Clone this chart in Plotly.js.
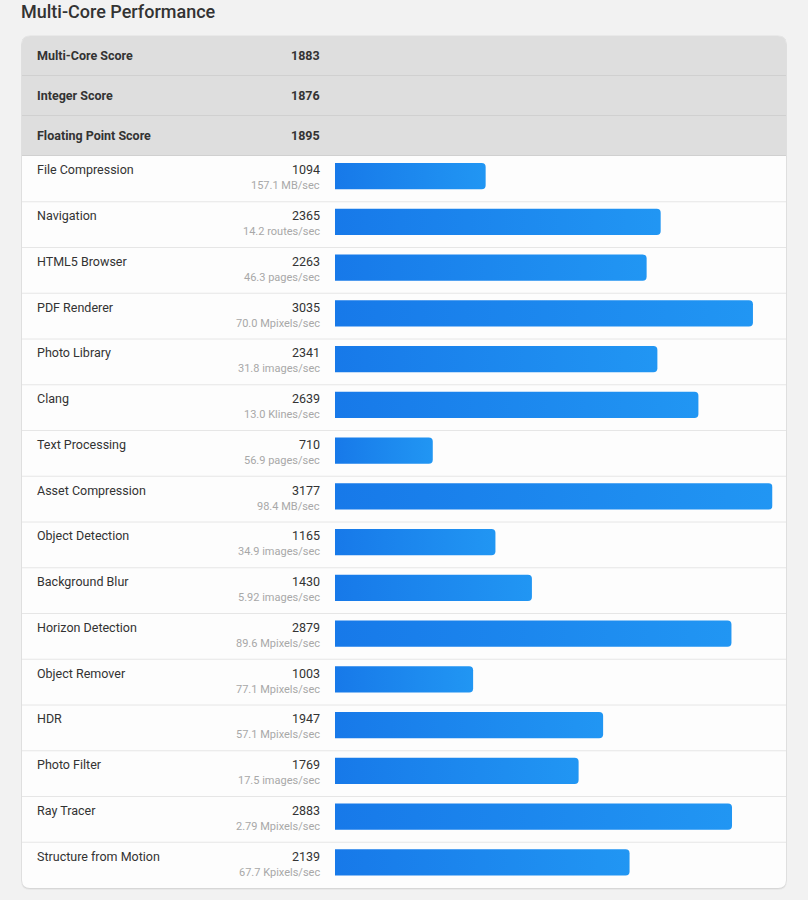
<!DOCTYPE html>
<html>
<head>
<meta charset="utf-8">
<script src="https://cdn.plot.ly/plotly-3.0.1.min.js"></script>
<style>
  html, body { margin: 0; padding: 0; background: #f2f2f2; }
  #chart { width: 808px; height: 900px; }
</style>
</head>
<body>
<div id="chart"></div>
<script>
// ---------- data ----------
const chartTitle = "Multi-Core Performance";
const summaryLabels = ["Multi-Core Score", "Integer Score", "Floating Point Score"];
const summaryScores = [1883, 1876, 1895];
const workloads = ["File Compression", "Navigation", "HTML5 Browser", "PDF Renderer", "Photo Library",
  "Clang", "Text Processing", "Asset Compression", "Object Detection", "Background Blur",
  "Horizon Detection", "Object Remover", "HDR", "Photo Filter", "Ray Tracer", "Structure from Motion"];
const scores = [1094, 2365, 2263, 3035, 2341, 2639, 710, 3177, 1165, 1430, 2879, 1003, 1947, 1769, 2883, 2139];
const rates = ["157.1 MB/sec", "14.2 routes/sec", "46.3 pages/sec", "70.0 Mpixels/sec", "31.8 images/sec",
  "13.0 Klines/sec", "56.9 pages/sec", "98.4 MB/sec", "34.9 images/sec", "5.92 images/sec",
  "89.6 Mpixels/sec", "77.1 Mpixels/sec", "57.1 Mpixels/sec", "17.5 images/sec", "2.79 Mpixels/sec",
  "67.7 Kpixels/sec"];

// ---------- layout helpers (pixel -> paper) ----------
const W = 808, H = 900;
const px = x => x / W;
const py = y => 1 - y / H;
const FONT = "Roboto, 'Noto Sans', sans-serif";

function roundRect(x0, y0, x1, y1, r, topOnly) {
  const rx = r / W, ry = r / H;
  const X0 = px(x0), X1 = px(x1), Y0 = py(y0), Y1 = py(y1); // Y0 top, Y1 bottom
  let p = `M ${X0} ${Y0 - ry} Q ${X0} ${Y0} ${X0 + rx} ${Y0} L ${X1 - rx} ${Y0} Q ${X1} ${Y0} ${X1} ${Y0 - ry} `;
  if (topOnly) {
    p += `L ${X1} ${Y1} L ${X0} ${Y1} Z`;
  } else {
    p += `L ${X1} ${Y1 + ry} Q ${X1} ${Y1} ${X1 - rx} ${Y1} L ${X0 + rx} ${Y1} Q ${X0} ${Y1} ${X0} ${Y1 + ry} Z`;
  }
  return p;
}

const cardL = 22, cardR = 786, cardT = 36, cardB = 888;
const headerRowH = 40;
const rowsTop = cardT + headerRowH * summaryLabels.length; // 156

const shapes = [];
// shadow
shapes.push({type: 'path', xref: 'paper', yref: 'paper', path: roundRect(cardL - 1, cardT, cardR + 1, cardB + 2, 9),
  fillcolor: 'rgba(0,0,0,0.04)', line: {width: 0}, layer: 'below'});
shapes.push({type: 'path', xref: 'paper', yref: 'paper', path: roundRect(cardL - 0.5, cardT - 0.5, cardR + 0.5, cardB + 1, 8.5),
  fillcolor: 'rgba(0,0,0,0.07)', line: {width: 0}, layer: 'below'});
// card
shapes.push({type: 'path', xref: 'paper', yref: 'paper', path: roundRect(cardL, cardT, cardR, cardB, 8),
  fillcolor: '#fdfdfd', line: {width: 0}, layer: 'below'});
// header background
shapes.push({type: 'path', xref: 'paper', yref: 'paper', path: roundRect(cardL, cardT, cardR, rowsTop, 8, true),
  fillcolor: '#dedede', line: {width: 0}, layer: 'below'});
// header separators
summaryLabels.forEach((_, i) => {
  const y = cardT + headerRowH * (i + 1) - 0.5;
  shapes.push({type: 'line', xref: 'paper', yref: 'paper', x0: px(cardL), x1: px(cardR), y0: py(y), y1: py(y),
    line: {color: '#d0d0d0', width: 1}, layer: 'below'});
});
// row separators
workloads.forEach((_, i) => {
  if (i < workloads.length - 1) {
    shapes.push({type: 'line', xref: 'paper', yref: 'y', x0: px(cardL), x1: px(cardR), y0: i + 0.5, y1: i + 0.5,
      line: {color: '#e6e6e6', width: 1}, layer: 'below'});
  }
});

const annotations = [];
summaryLabels.forEach((lab, i) => {
  const yc = cardT + headerRowH * (i + 0.5) - 0.5;
  annotations.push({xref: 'paper', yref: 'paper', x: px(35), y: py(yc), xanchor: 'left', yanchor: 'middle',
    text: '<b>' + lab + '</b>', showarrow: false, font: {family: FONT, size: 12.5, color: '#333'}});
  annotations.push({xref: 'paper', yref: 'paper', x: px(322), y: py(yc), xanchor: 'right', yanchor: 'middle',
    text: '<b>' + summaryScores[i] + '</b>', showarrow: false, font: {family: FONT, size: 12.5, color: '#333'}});
});
workloads.forEach((name, i) => {
  annotations.push({xref: 'paper', yref: 'y', x: px(35), y: name, xanchor: 'left', yanchor: 'middle', yshift: 9,
    text: name, showarrow: false, font: {family: FONT, size: 12.5, color: '#333'}});
  annotations.push({xref: 'paper', yref: 'y', x: px(322), y: name, xanchor: 'right', yanchor: 'middle', yshift: 9,
    text: String(scores[i]), showarrow: false, font: {family: FONT, size: 12.5, color: '#333'}});
  annotations.push({xref: 'paper', yref: 'y', x: px(322), y: name, xanchor: 'right', yanchor: 'middle', yshift: -7,
    text: rates[i], showarrow: false, font: {family: FONT, size: 11, color: '#a8a8a8'}});
});

const trace = {
  type: 'bar', orientation: 'h',
  x: scores, y: workloads,
  width: 0.575, offset: -0.347,
  marker: {color: '#1d88ee', cornerradius: 4, line: {width: 0}},
  hoverinfo: 'skip'
};

const layout = {
  width: W, height: H,
  margin: {l: 0, r: 0, t: 0, b: 0},
  paper_bgcolor: '#f2f2f2', plot_bgcolor: 'rgba(0,0,0,0)',
  title: {text: chartTitle, xref: 'paper', yref: 'paper', x: px(21), y: py(12), xanchor: 'left', yanchor: 'middle',
    font: {family: FONT, size: 18, color: '#333', weight: 500}},
  xaxis: {domain: [px(335), px(772.5)], range: [0, Math.max(...scores)], visible: false, fixedrange: true},
  yaxis: {domain: [py(cardB), py(rowsTop)], type: 'category', categoryarray: workloads, categoryorder: 'array',
    range: [workloads.length - 0.5, -0.5], autorange: false, visible: false, fixedrange: true},
  shapes: shapes, annotations: annotations,
  showlegend: false, hovermode: false
};

Plotly.newPlot('chart', [trace], layout, {displayModeBar: false, staticPlot: true}).then(gd => {
  const svg = gd.querySelector('.main-svg');
  const ns = 'http://www.w3.org/2000/svg';
  let defs = svg.querySelector('defs');
  if (!defs) { defs = document.createElementNS(ns, 'defs'); svg.insertBefore(defs, svg.firstChild); }
  const g = document.createElementNS(ns, 'linearGradient');
  g.setAttribute('id', 'barGrad'); g.setAttribute('x1', '0'); g.setAttribute('x2', '1');
  g.setAttribute('y1', '0'); g.setAttribute('y2', '0');
  [['0', '#1779e9'], ['1', '#2196f3']].forEach(([o, c]) => {
    const s = document.createElementNS(ns, 'stop');
    s.setAttribute('offset', o); s.setAttribute('stop-color', c); g.appendChild(s);
  });
  defs.appendChild(g);
  gd.querySelectorAll('.barlayer .point path').forEach(p => { p.style.fill = 'url(#barGrad)'; });
});
</script>
</body>
</html>
